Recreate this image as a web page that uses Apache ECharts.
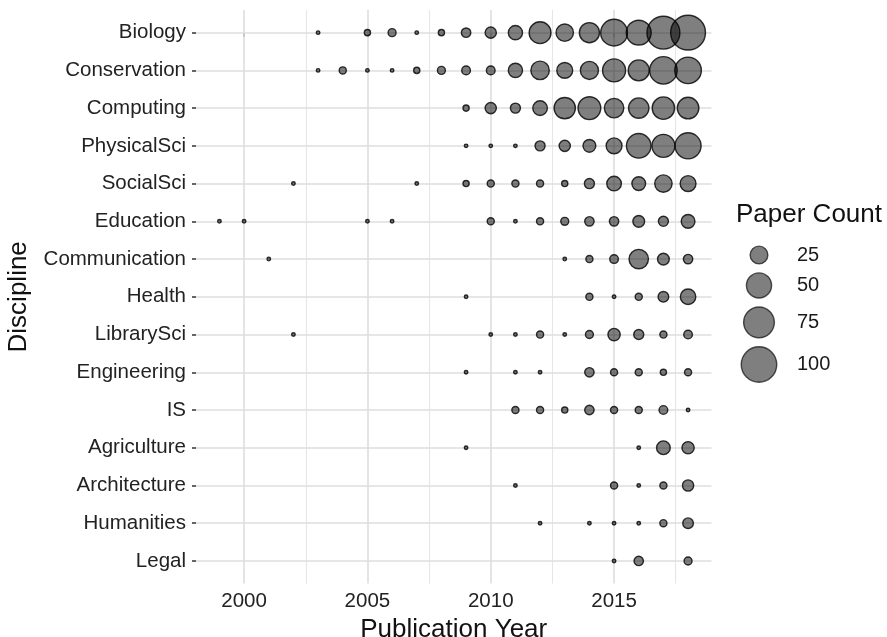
<!DOCTYPE html>
<html>
<head>
<meta charset="utf-8">
<script src="https://cdn.jsdelivr.net/npm/echarts@6/dist/echarts.min.js"></script>
<style>
  html, body { margin: 0; padding: 0; background: #fff; }
  #main { width: 887px; height: 637px; }
</style>
</head>
<body>
<div id="main"></div>
<script>
// categories (top to bottom)
const disciplines = ['Biology', 'Conservation', 'Computing', 'PhysicalSci', 'SocialSci', 'Education',
  'Communication', 'Health', 'LibrarySci', 'Engineering', 'IS', 'Agriculture', 'Architecture',
  'Humanities', 'Legal'];
const years = [1999, 2000, 2001, 2002, 2003, 2004, 2005, 2006, 2007, 2008,
  2009, 2010, 2011, 2012, 2013, 2014, 2015, 2016, 2017, 2018];

// paper counts per year (0 = no point)
const biology       = [0, 0, 0, 0, 1, 0, 3, 5, 1, 3, 7, 10, 16, 38, 24, 32, 57, 49, 86, 96];
const conservation  = [0, 0, 0, 0, 1, 4, 1, 1, 3, 5, 6, 6, 16, 27, 20, 26, 42, 35, 60, 56];
const computing     = [0, 0, 0, 0, 0, 0, 0, 0, 0, 0, 3, 10, 8, 17, 36, 41, 30, 33, 40, 37];
const physicalSci   = [0, 0, 0, 0, 0, 0, 0, 0, 0, 0, 1, 1, 1, 8, 10, 13, 20, 48, 42, 54];
const socialSci     = [0, 0, 0, 1, 0, 0, 0, 0, 1, 0, 3, 4, 4, 4, 3, 8, 17, 15, 24, 20];
const education     = [1, 1, 0, 0, 0, 0, 1, 1, 0, 0, 0, 4, 1, 4, 5, 7, 7, 11, 8, 15];
const communication = [0, 0, 1, 0, 0, 0, 0, 0, 0, 0, 0, 0, 0, 0, 1, 4, 6, 30, 11, 7];
const health        = [0, 0, 0, 0, 0, 0, 0, 0, 0, 0, 1, 0, 0, 0, 0, 4, 1, 4, 9, 19];
const librarySci    = [0, 0, 0, 1, 0, 0, 0, 0, 0, 0, 0, 1, 1, 4, 1, 5, 12, 8, 4, 6];
const engineering   = [0, 0, 0, 0, 0, 0, 0, 0, 0, 0, 1, 0, 1, 1, 0, 7, 4, 4, 3, 4];
const is            = [0, 0, 0, 0, 0, 0, 0, 0, 0, 0, 0, 0, 4, 4, 3, 7, 4, 4, 6, 1];
const agriculture   = [0, 0, 0, 0, 0, 0, 0, 0, 0, 0, 1, 0, 0, 0, 0, 0, 0, 1, 15, 12];
const architecture  = [0, 0, 0, 0, 0, 0, 0, 0, 0, 0, 0, 0, 1, 0, 0, 0, 4, 1, 4, 10];
const humanities    = [0, 0, 0, 0, 0, 0, 0, 0, 0, 0, 0, 0, 0, 1, 0, 1, 1, 1, 4, 9];
const legal         = [0, 0, 0, 0, 0, 0, 0, 0, 0, 0, 0, 0, 0, 0, 0, 0, 1, 7, 0, 5];

const counts = [biology, conservation, computing, physicalSci, socialSci, education,
  communication, health, librarySci, engineering, is, agriculture, architecture,
  humanities, legal];

const xTicks = [2000, 2005, 2010, 2015];
const xMinor = [2002.5, 2007.5, 2012.5, 2017.5];
const legendValues = [25, 50, 75, 100];

const FONT = 'Liberation Sans, Arial, Helvetica, sans-serif';
const BORDER = 1.4;
// symbol diameter (without border), area proportional to count
const sizeOf = v => 3.55 * Math.sqrt(v);

let points = [];
counts.forEach((row, i) => {
  row.forEach((c, j) => {
    if (c > 0) points.push([years[j], i, c]);
  });
});

let gridLines = [];
xTicks.forEach(x => gridLines.push({ xAxis: x, lineStyle: { color: '#dedede', width: 1.6, type: 'solid' } }));
xMinor.forEach(x => gridLines.push({ xAxis: x, lineStyle: { color: '#e6e6e6', width: 1.1, type: 'solid' } }));
disciplines.forEach((d, i) => gridLines.push({ yAxis: i, lineStyle: { color: '#dedede', width: 1.6, type: 'solid' } }));

// size legend
let legendEls = [{
  type: 'text', left: 736, top: 202,
  style: { text: 'Paper Count', font: '26px ' + FONT, fill: '#111' }
}];
let cy = 255;
legendValues.forEach((v, k) => {
  if (k > 0) cy += (sizeOf(legendValues[k - 1]) + sizeOf(v)) / 2 + 9;
  legendEls.push({
    type: 'circle', shape: { cx: 759, cy: cy, r: sizeOf(v) / 2 },
    style: { fill: 'rgba(0,0,0,0.5)', stroke: 'rgba(0,0,0,0.65)', lineWidth: BORDER }
  });
  legendEls.push({
    type: 'text', x: 797, y: cy,
    style: { text: String(v), font: '20px ' + FONT, fill: '#1a1a1a', verticalAlign: 'middle' }
  });
});

let myChart = echarts.init(document.getElementById('main'));
myChart.setOption({
  backgroundColor: '#fff',
  animation: false,
  grid: { left: 196, top: 10, width: 515.5, height: 573.6, outerBoundsMode: 'none' },
  xAxis: {
    type: 'value', min: 1998.05, max: 2018.95,
    name: 'Publication Year', nameLocation: 'middle', nameGap: 30,
    nameTextStyle: { fontFamily: FONT, fontSize: 26, color: '#111' },
    axisLine: { show: false },
    axisTick: { show: true, length: 4, customValues: xTicks, lineStyle: { color: '#333', width: 1.5 } },
    axisLabel: {
      customValues: xTicks, margin: 7, fontFamily: FONT, fontSize: 20.5, color: '#222',
      formatter: v => String(v)
    },
    splitLine: { show: false }
  },
  yAxis: {
    type: 'value', inverse: true, min: -0.6, max: 14.6,
    name: 'Discipline', nameLocation: 'middle', nameGap: 164, nameRotate: 90,
    nameTextStyle: { fontFamily: FONT, fontSize: 26, color: '#111' },
    axisLine: { show: false },
    axisTick: { show: true, length: 4, customValues: disciplines.map((d, i) => i), lineStyle: { color: '#333', width: 1.5 } },
    axisLabel: {
      customValues: disciplines.map((d, i) => i), margin: 10,
      fontFamily: FONT, fontSize: 20.5, color: '#222',
      formatter: v => disciplines[Math.round(v)]
    },
    splitLine: { show: false }
  },
  graphic: legendEls,
  series: [
    {
      type: 'scatter', data: [], z: 1, silent: true,
      markLine: { silent: true, z: 1, symbol: 'none', label: { show: false }, data: gridLines, animation: false }
    },
    {
      type: 'scatter', z: 3,
      data: points,
      symbolSize: d => sizeOf(d[2]),
      itemStyle: { color: 'rgba(0,0,0,0.5)', borderColor: 'rgba(0,0,0,0.8)', borderWidth: BORDER, opacity: 1 }
    }
  ]
});
</script>
</body>
</html>
